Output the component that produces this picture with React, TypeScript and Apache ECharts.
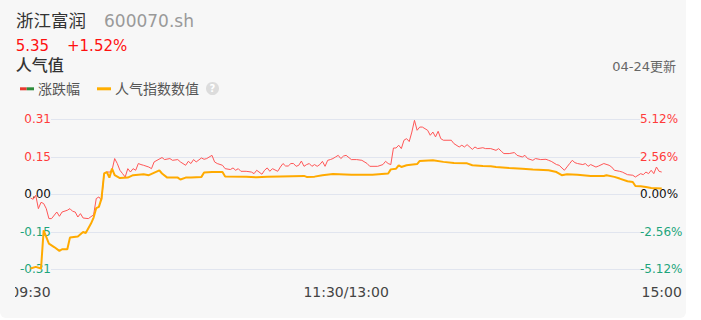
import React, { useEffect, useRef } from "react";
import * as echarts from "echarts";

// 涨跌幅 (%) — minute index from 09:30 (0..240)
const changeMinutes = [0,1,2,3,4,5,6,7,8,10,11,12,14,15,16,17,18,19,20,22,24,25,26,27,28,29,30,31,32,33,34,35,36,37,38,39,40,41,42,43,45,46,47,50,51,53,54,56,57,59,60,61,62,63,65,66,67,69,70,71,73,74,76,77,78,79,80,82,84,85,86,88,89,90,91,92,94,95,96,97,98,99,100,101,102,103,104,105,106,107,108,109,110,111,112,113,114,115,116,117,118,119,120,122,124,126,128,129,132,134,135,136,137,138,139,140,141,142,143,144,145,146,147,148,149,151,152,153,154,155,156,157,160,161,163,164,165,166,168,169,170,172,173,175,177,178,179,180,182,184,185,187,188,189,191,192,194,196,197,198,200,201,203,204,205,206,207,208,210,211,212,213,215,216,218,220,221,222,224,225,227,229,230,232,233,234,235,236,237,238,239,240];
const changeValues = [-0.25,-0.34,-0.07,-0.98,-0.55,-0.63,-0.98,-1.66,-1.66,-1.21,-1.5,-1.21,-1.09,-0.98,-1.16,-1.21,-1.55,-1.32,-1.62,-1.66,-1.4,-0.29,-0.18,-0.41,1.41,1.52,1.52,1.64,2.44,2.1,1.64,1.41,1.18,1.75,1.52,1.75,1.64,2.1,2.03,1.98,1.86,1.75,2.21,2.51,2.37,2.44,2.32,2.37,2.21,1.98,2.25,2.1,2.37,2.21,2.48,2.39,2.44,2.66,2.21,2.1,1.98,1.75,1.69,1.8,1.64,1.75,1.57,1.57,1.52,1.41,1.64,1.37,1.64,1.8,1.57,1.75,1.57,1.86,2.1,1.93,1.93,2.1,2.1,1.91,1.98,2.27,1.91,2.03,2.1,1.91,2.03,1.91,2.03,2.25,1.91,2.32,2.37,2.44,2.55,2.66,2.44,2.61,2.66,2.37,2.37,2.32,2.1,1.91,1.91,2.03,2.25,2.1,2.03,3.16,3.16,3.35,3.12,3.69,3.8,3.6,4.25,5.05,4.37,4.59,4.59,4.37,4.03,4.25,3.92,4.3,3.8,3.69,3.69,3.46,3.23,3.35,3.23,3.39,3.07,3.23,3.12,3.18,3.12,3.12,3.0,3.12,2.94,2.78,2.78,2.85,2.66,2.55,2.66,2.44,2.32,2.44,2.37,2.39,2.32,2.25,2.03,1.98,1.64,1.87,2.1,2.32,2.16,2.1,2.03,2.1,1.91,2.03,1.86,1.93,2.1,1.98,1.86,1.64,1.57,1.52,1.34,1.3,1.18,1.41,1.34,1.52,1.41,1.64,1.41,1.86,1.57,1.52];

// 人气指数数值
const hotMinutes = [0,2,4,5,7,9,11,12,14,15,18,20,21,23,24,25,26,27,28,29,30,31,32,34,37,39,43,45,49,50,52,56,57,59,61,65,66,69,73,74,82,86,90,95,104,105,108,111,115,122,130,136,137,139,140,141,143,147,148,153,157,161,166,168,172,175,177,182,187,191,197,200,202,204,208,213,218,219,222,224,227,229,230,232,234,236,240];
const hotValues = [-0.307,-0.3,-0.307,-0.149,-0.204,-0.218,-0.234,-0.227,-0.227,-0.179,-0.174,-0.156,-0.16,-0.121,-0.096,-0.057,-0.052,-0.018,0.086,0.092,0.069,0.106,0.079,0.067,0.069,0.079,0.083,0.079,0.099,0.086,0.069,0.069,0.061,0.069,0.069,0.072,0.09,0.092,0.092,0.074,0.073,0.07,0.073,0.074,0.076,0.072,0.073,0.079,0.084,0.081,0.081,0.086,0.103,0.106,0.12,0.113,0.12,0.125,0.138,0.141,0.134,0.129,0.128,0.12,0.117,0.116,0.113,0.109,0.106,0.103,0.099,0.092,0.079,0.083,0.081,0.076,0.076,0.079,0.072,0.065,0.054,0.051,0.034,0.033,0.03,0.026,0.024];

const timeTicks = [0, 120, 240];
const timeLabels = ["09:30", "11:30/13:00", "15:00"];

const FONT = "'DejaVu Sans', 'Noto Sans CJK SC', sans-serif";
const RED = "#ff3b3b";
const GREEN = "#1ea57c";
const CARD = "#f7f7f7";

function signColor(v: number) {
  if (Math.abs(v) < 1e-9) return "#111";
  return v > 0 ? RED : GREEN;
}

export default function App() {
  const ref = useRef<HTMLDivElement>(null);
  useEffect(() => {
    if (!ref.current) return;
    const chart = echarts.init(ref.current, undefined, { renderer: "svg" });
    const changeData = changeMinutes.map((m, i) => [m, changeValues[i]]);
    const hotData = hotMinutes.map((m, i) => [m, hotValues[i]]);
    chart.setOption({
      animation: false,
      backgroundColor: "transparent",
      grid: { left: 30.5, right: 24.3, top: 119.3, bottom: 48.7, containLabel: false },
      xAxis: {
        type: "value",
        min: 0,
        max: 240,
        interval: 120,
        axisLine: { show: false },
        axisTick: { show: false },
        splitLine: { show: false },
        axisLabel: {
          margin: 16,
          fontSize: 14,
          color: "#444",
          fontFamily: FONT,
          formatter: (v: number) => {
            const i = timeTicks.indexOf(v);
            return i >= 0 ? timeLabels[i] : "";
          },
        },
      },
      yAxis: [
        {
          type: "value",
          min: -0.31,
          max: 0.31,
          interval: 0.155,
          position: "left",
          axisLine: { show: false },
          axisTick: { show: false },
          splitLine: { show: true, lineStyle: { color: "#e1e5ef", width: 1 } },
          axisLabel: {
            margin: -20.5,
            fontSize: 12,
            fontFamily: FONT,
            backgroundColor: CARD,
            color: (v: any) => signColor(Number(v)),
            formatter: (v: number) => (Math.abs(v) < 1e-9 ? "0.00" : v.toFixed(2)),
          },
        },
        {
          type: "value",
          min: -5.12,
          max: 5.12,
          interval: 2.56,
          position: "right",
          axisLine: { show: false },
          axisTick: { show: false },
          splitLine: { show: false },
          axisLabel: {
            margin: -21.7,
            fontSize: 12,
            fontFamily: FONT,
            backgroundColor: CARD,
            color: (v: any) => signColor(Number(v)),
            formatter: (v: number) => (Math.abs(v) < 1e-9 ? "0.00%" : v.toFixed(2) + "%"),
          },
        },
      ],
      series: [
        {
          name: "涨跌幅",
          type: "line",
          yAxisIndex: 1,
          data: changeData,
          showSymbol: false,
          symbol: "none",
          lineStyle: { color: "#ff5656", width: 1 },
          z: 3,
        },
        {
          name: "人气指数数值",
          type: "line",
          yAxisIndex: 0,
          data: hotData,
          showSymbol: false,
          symbol: "none",
          lineStyle: { color: "#ffaa00", width: 2 },
          z: 4,
        },
      ],
      graphic: [
        { type: "rect", z: 100, shape: { x: 0, y: 280, width: 15, height: 25 }, style: { fill: CARD } },
        { type: "text", x: 16, y: 20.5, style: { text: "浙江富润", font: `17.5px ${FONT}`, fill: "#333", verticalAlign: "middle" } },
        { type: "text", x: 104, y: 21, style: { text: "600070.sh", font: `17px ${FONT}`, fill: "#9a9a9a", verticalAlign: "middle" } },
        { type: "text", x: 15.7, y: 46, style: { text: "5.35", font: `15px ${FONT}`, fill: "#ff1010", verticalAlign: "middle" } },
        { type: "text", x: 67, y: 46, style: { text: "+1.52%", font: `15px ${FONT}`, fill: "#ff1010", verticalAlign: "middle" } },
        { type: "text", x: 15.7, y: 65, style: { text: "人气值", font: `500 16px ${FONT}`, fill: "#333", verticalAlign: "middle" } },
        { type: "text", x: 676, y: 66, style: { text: "04-24更新", font: `13px ${FONT}`, fill: "#666", align: "right", verticalAlign: "middle" } },
        { type: "rect", shape: { x: 20, y: 87.3, width: 6.7, height: 3 }, style: { fill: "#e8392f" } },
        { type: "rect", shape: { x: 26.7, y: 87.3, width: 7.3, height: 3 }, style: { fill: "#2e8b3a" } },
        { type: "text", x: 38, y: 89, style: { text: "涨跌幅", font: `14px ${FONT}`, fill: "#555", verticalAlign: "middle" } },
        { type: "rect", shape: { x: 97, y: 87.3, width: 14, height: 3 }, style: { fill: "#ffae00" } },
        { type: "text", x: 115, y: 89, style: { text: "人气指数数值", font: `14px ${FONT}`, fill: "#555", verticalAlign: "middle" } },
        { type: "circle", shape: { cx: 212.5, cy: 88.5, r: 6.5 }, style: { fill: "#dcdcdc" } },
        { type: "text", x: 212.5, y: 88.8, style: { text: "?", font: `bold 10px ${FONT}`, fill: "#fff", align: "center", verticalAlign: "middle" } },
      ],
    });
    return () => chart.dispose();
  }, []);

  return (
    <div style={{ position: "fixed", left: 0, top: 0, width: 701, height: 320, background: "#fff" }}>
      <div
        style={{
          position: "absolute",
          left: 0,
          top: 0,
          width: 686,
          height: 318,
          background: CARD,
          borderRadius: "0 0 6px 6px",
          overflow: "hidden",
        }}
      >
        <div ref={ref} style={{ position: "absolute", left: 0, top: 0, width: 686, height: 318 }} />
      </div>
    </div>
  );
}
